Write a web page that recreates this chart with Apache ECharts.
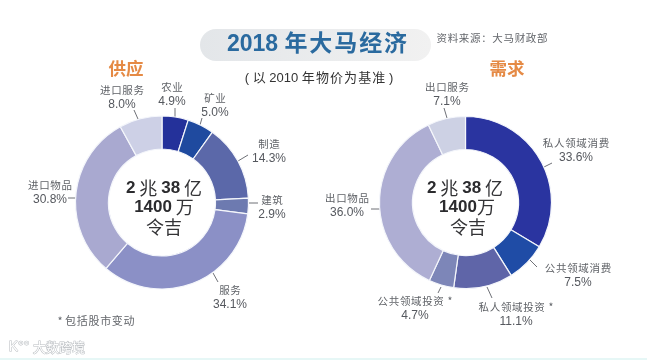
<!DOCTYPE html>
<html><head><meta charset="utf-8">
<style>html,body{margin:0;padding:0;background:#fff}#c{width:647px;height:360px}</style>
<script src="https://cdn.jsdelivr.net/npm/echarts@6/dist/echarts.min.js"></script>
</head><body><div id="c"></div>
<script>
const supplyNames = ['农业','矿业','制造','建筑','服务','进口物品','进口服务'];
const supplyValues = [4.9,5.0,14.3,2.9,34.1,30.8,8.0];
const supplyColors = ['#24319a','#1f4a9f','#5b68a9','#6d7ab0','#8b90c6','#a9a9d0','#cdd0e6'];
const supplyLabelPos = [[172,95],[215,106],[269,152],[272,208],[230,298],[50,193],[122,98]];
const supplyTicks = [[[175,117],[175,108]],[[200,125],[202,118]],[[238,161],[248,155]],[[248,203],[258,203]],[[213,273],[218,282]],[[76,198],[68,198]],[[138,119],[134,110]]];
const demandNames = ['私人领域消费','公共领域消费','私人领域投资 *','公共领域投资 *','出口物品','出口服务'];
const demandValues = [33.6,7.5,11.1,4.7,36.0,7.1];
const demandColors = ['#2a34a0','#1f4ca6','#5f65a8','#7d86b8','#aeaed3','#cdd1e4'];
const demandLabelPos = [[576,151],[578,275.5],[516,314.5],[415,309],[347,206],[447,95]];
const demandTicks = [[[544,167],[552,163]],[[530,260],[537,267]],[[487,287],[492,298]],[[441,287],[438,293]],[[380,209],[371,209]],[[447,118],[444,108]]];
const font = '"Noto Sans CJK SC","Liberation Sans",sans-serif';
const latin = '"Liberation Sans",Arimo,"Noto Sans CJK SC",sans-serif';
const gap = s => s.split('').join('\u200a');

function pie(names, values, colors, pos, ticks, cx, R, r){
  return {
    type:'pie', center:[cx,202.5], radius:[r,R], startAngle:90, clockwise:true, silent:true,
    avoidLabelOverlap:false,
    itemStyle:{borderColor:'#f4f6fb',borderWidth:1.2},
    label:{show:true,position:'outside',
      formatter:p=>'{n|'+gap(p.name)+'}\n{p|'+p.value.toFixed(1)+'%}',
      rich:{n:{color:'#5f6267',fontSize:10.5,fontFamily:font,lineHeight:14,align:'center'},
            p:{color:'#55585e',fontSize:12,fontFamily:latin,lineHeight:15,align:'center'}}},
    labelLine:{show:true,length:7,length2:0,smooth:false,lineStyle:{color:'#6f7177',width:1}},
    labelLayout:p=>({x:pos[p.dataIndex][0],y:pos[p.dataIndex][1],align:'center',verticalAlign:'middle',hideOverlap:false,
      labelLinePoints:[ticks[p.dataIndex][0],ticks[p.dataIndex][1],ticks[p.dataIndex][1]]}),
    data:names.map((n,i)=>({name:n,value:values[i],itemStyle:{color:colors[i]}}))
  };
}
function txt(x,y,text,size,weight,color,extra){
  return {type:'text',x:x,y:y,silent:true,style:Object.assign({text:text,fontSize:size,fontWeight:weight,fill:color,align:'center',verticalAlign:'middle',fontFamily:font},extra||{})};
}
const centerRich = {
  b:{fontSize:17,fontWeight:'bold',fontFamily:latin,fill:'#2b2b2e',color:'#2b2b2e'},
  n:{fontSize:18,fontWeight:'normal',fontFamily:font,fill:'#333336',color:'#333336'}
};
const chart = echarts.init(document.getElementById('c'),null,{renderer:'canvas'});
chart.setOption({
  animation:false, backgroundColor:'#ffffff',
  series:[pie(supplyNames,supplyValues,supplyColors,supplyLabelPos,supplyTicks,162,86.5,53.5),
          pie(demandNames,demandValues,demandColors,demandLabelPos,demandTicks,465.5,86,53)],
  graphic:[
    {type:'rect',z:0,shape:{x:200,y:29,width:231,height:32,r:16},style:{fill:new echarts.graphic.LinearGradient(0,0,1,0,[{offset:0,color:'#e3e6e9'},{offset:1,color:'#f1f1f1'}])}},
    {type:'rect',z:0,shape:{x:0,y:358,width:647,height:2},style:{fill:'#e6f7f6'}},
    txt(317,45,'2018 年\u200a大\u200a马\u200a经\u200a济',23,'bold','#2a6a9f',{fontFamily:latin}),
    txt(319,78,'( 以 2010 '+gap('年物价为基准')+' )',13,'normal','#333',{fontFamily:latin}),
    txt(492,38,gap('资料来源：大马财政部'),10.5,'normal','#63666b'),
    txt(126,68,'供应',17.5,'bold','#e58a45'),
    txt(507,68,'需求',17.5,'bold','#e58a45'),
    txt(164,188,'{b|2} {n|兆} {b|38} {n|亿}',17,'bold','#2b2b2e',{rich:centerRich}),
    txt(164,207,'{b|1400} {n|万}',17,'bold','#2b2b2e',{rich:centerRich}),
    txt(164,227,'{n|令吉}',17,'normal','#333336',{rich:centerRich}),
    txt(465,188,'{b|2} {n|兆} {b|38} {n|亿}',17,'bold','#2b2b2e',{rich:centerRich}),
    txt(467,207,'{b|1400}{n|万}',17,'bold','#2b2b2e',{rich:centerRich}),
    txt(468,227,'{n|令吉}',17,'normal','#333336',{rich:centerRich}),
    txt(96,321,'* '+gap('包括股市变动'),11,'normal','#63666b'),
    txt(59,347,'大数跨境',13,'normal','#ffffff',{stroke:'#b8bcc0',lineWidth:1}),
    txt(19,347,'K°°',14,'normal','#ffffff',{stroke:'#b8bcc0',lineWidth:1,fontFamily:latin})
  ]
});
</script></body></html>
